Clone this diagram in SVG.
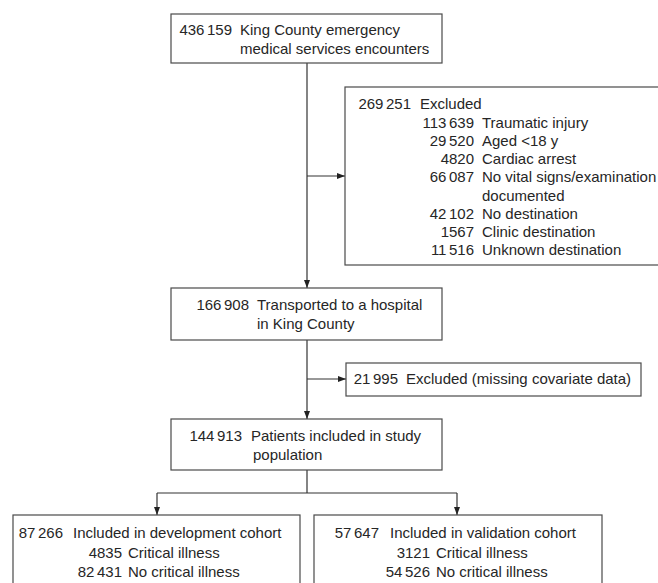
<svg xmlns="http://www.w3.org/2000/svg" width="658" height="583" viewBox="0 0 658 583">
<defs>
<marker id="ah" markerWidth="8" markerHeight="8" refX="8" refY="4" orient="auto" markerUnits="userSpaceOnUse">
<path d="M0,1 L8,4 L0,7 Z" fill="#222"/>
</marker>
<style>
.box{fill:#fff;stroke:#4a4a4a;stroke-width:1.2}
.ln{fill:none;stroke:#333;stroke-width:1.2}
.t{font-family:"Liberation Sans",Arial,Helvetica,sans-serif;font-size:15px;fill:#262626}
.n{text-anchor:end}
</style>
</defs>
<rect width="658" height="583" fill="#fff"/>
<g id="connectors">
<line class="ln" x1="307" y1="63" x2="307" y2="288" marker-end="url(#ah)"/>
<line class="ln" x1="307" y1="176" x2="345" y2="176" marker-end="url(#ah)"/>
<line class="ln" x1="307" y1="340" x2="307" y2="419" marker-end="url(#ah)"/>
<line class="ln" x1="307" y1="379" x2="346" y2="379" marker-end="url(#ah)"/>
<polyline class="ln" points="307,470 307,493"/>
<line class="ln" x1="157" y1="493" x2="457" y2="493"/>
<line class="ln" x1="157" y1="493" x2="157" y2="515" marker-end="url(#ah)"/>
<line class="ln" x1="457" y1="493" x2="457" y2="515" marker-end="url(#ah)"/>
</g>
<g id="n1">
<rect class="box" x="171" y="14" width="271" height="49"/>
<text class="t n" x="232" y="35">436<tspan dx="2.5">159</tspan></text>
<text class="t" x="240" y="35">King County emergency</text>
<text class="t" x="240" y="54">medical services encounters</text>
</g>
<g id="n2">
<rect class="box" x="345" y="87" width="360" height="178"/>
<text class="t n" x="411" y="109">269<tspan dx="2.5">251</tspan></text>
<text class="t" x="420" y="109">Excluded</text>
<text class="t n" x="474" y="127.5">113<tspan dx="2.5">639</tspan></text>
<text class="t" x="482" y="127.5">Traumatic injury</text>
<text class="t n" x="474" y="145.75">29<tspan dx="2.5">520</tspan></text>
<text class="t" x="482" y="145.75">Aged &lt;18 y</text>
<text class="t n" x="474" y="164">4820</text>
<text class="t" x="482" y="164">Cardiac arrest</text>
<text class="t n" x="474" y="182.25">66<tspan dx="2.5">087</tspan></text>
<text class="t" x="482" y="182.25">No vital signs/examination</text>
<text class="t" x="482" y="200.5">documented</text>
<text class="t n" x="474" y="218.75">42<tspan dx="2.5">102</tspan></text>
<text class="t" x="482" y="218.75">No destination</text>
<text class="t n" x="474" y="237">1567</text>
<text class="t" x="482" y="237">Clinic destination</text>
<text class="t n" x="474" y="255.25">11<tspan dx="2.5">516</tspan></text>
<text class="t" x="482" y="255.25">Unknown destination</text>
</g>
<g id="n3">
<rect class="box" x="171" y="288" width="271" height="52"/>
<text class="t n" x="249" y="310">166<tspan dx="2.5">908</tspan></text>
<text class="t" x="257" y="310">Transported to a hospital</text>
<text class="t" x="257" y="329">in King County</text>
</g>
<g id="n4">
<rect class="box" x="346" y="363" width="295" height="33"/>
<text class="t n" x="398" y="384">21<tspan dx="2.5">995</tspan></text>
<text class="t" x="406" y="384">Excluded (missing covariate data)</text>
</g>
<g id="n5">
<rect class="box" x="171" y="419" width="271" height="51"/>
<text class="t n" x="242" y="441">144<tspan dx="2.5">913</tspan></text>
<text class="t" x="251" y="441">Patients included in study</text>
<text class="t" x="253" y="460">population</text>
</g>
<g id="n6">
<rect class="box" x="13" y="515" width="287" height="90"/>
<text class="t n" x="63" y="538">87<tspan dx="2.5">266</tspan></text>
<text class="t" x="73" y="538">Included in development cohort</text>
<text class="t n" x="122" y="558">4835</text>
<text class="t" x="128" y="558">Critical illness</text>
<text class="t n" x="122" y="577">82<tspan dx="2.5">431</tspan></text>
<text class="t" x="128" y="577">No critical illness</text>
</g>
<g id="n7">
<rect class="box" x="314" y="515" width="288" height="90"/>
<text class="t n" x="379" y="538">57<tspan dx="2.5">647</tspan></text>
<text class="t" x="390" y="538">Included in validation cohort</text>
<text class="t n" x="430" y="558">3121</text>
<text class="t" x="436" y="558">Critical illness</text>
<text class="t n" x="430" y="577">54<tspan dx="2.5">526</tspan></text>
<text class="t" x="436" y="577">No critical illness</text>
</g>
</svg>
